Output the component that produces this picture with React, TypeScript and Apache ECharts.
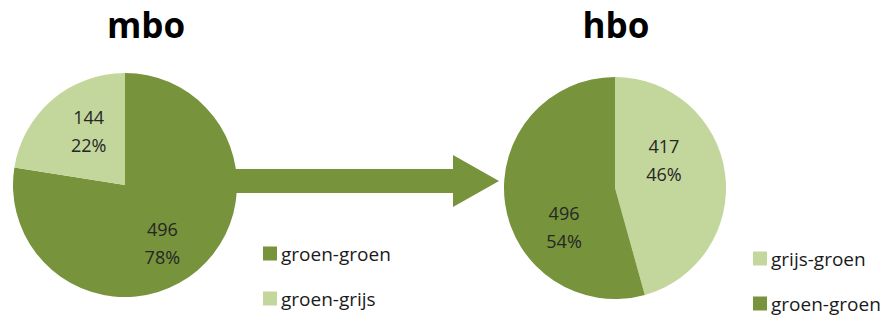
import React, { useEffect, useRef } from "react";
import * as echarts from "echarts";

const mboCategories = ["groen-groen", "groen-grijs"];
const mboValues = [496, 144];
const mboPercents = [78, 22];
const hboCategories = ["grijs-groen", "groen-groen"];
const hboValues = [417, 496];
const hboPercents = [46, 54];
const titles = ["mbo", "hbo"];

const DARK = "#77933C";
const LIGHT = "#C3D69B";
const FONT = "'Open Sans', 'DejaVu Sans', sans-serif";

export default function App() {
  const ref = useRef<HTMLDivElement>(null);
  useEffect(() => {
    if (!ref.current) return;
    const chart = echarts.init(ref.current, null, { renderer: "svg" });
    const labelCfg = (pcts: number[]) => ({
      show: true,
      position: "inside",
      formatter: (p: any) => `${p.value}\n${pcts[p.dataIndex]}%`,
      color: "#262626",
      fontSize: 18,
      lineHeight: 28,
      fontFamily: FONT,
    });
    const mboShift = [
      [-1, 13],
      [2, -9],
    ];
    const hboShift = [
      [-9, -20],
      [7, 31],
    ];
    const legendText = {
      fontSize: 19,
      color: "#1a1a1a",
      fontFamily: FONT,
      padding: [0, 0, 0, -1],
    };
    chart.setOption({
      animation: false,
      backgroundColor: "#ffffff",
      title: [
        {
          text: titles[0],
          left: 141,
          top: 2,
          textAlign: "center",
          textStyle: { fontSize: 35, fontWeight: "bold", color: "#000", fontFamily: FONT },
        },
        {
          text: titles[1],
          left: 611,
          top: 2,
          textAlign: "center",
          textStyle: { fontSize: 35, fontWeight: "bold", color: "#000", fontFamily: FONT },
        },
      ],
      legend: [
        {
          data: mboCategories,
          orient: "vertical",
          left: 263,
          top: 244,
          padding: 0,
          itemWidth: 14,
          itemHeight: 14,
          itemGap: 26,
          icon: "rect",
          textStyle: legendText,
          selectedMode: false,
        },
        {
          data: hboCategories,
          orient: "vertical",
          left: 753,
          top: 249,
          padding: 0,
          itemWidth: 14,
          itemHeight: 14,
          itemGap: 26,
          icon: "rect",
          textStyle: legendText,
          selectedMode: false,
        },
      ],
      graphic: [
        {
          type: "polygon",
          z: -1,
          shape: {
            points: [
              [232, 169],
              [453, 169],
              [453, 155],
              [499, 181],
              [453, 207],
              [453, 193],
              [232, 193],
            ],
          },
          style: { fill: DARK },
        },
      ],
      series: [
        {
          type: "pie",
          center: [125, 185],
          radius: 112,
          startAngle: 90,
          clockwise: true,
          label: labelCfg(mboPercents),
          labelLine: { show: false },
          labelLayout: (p: any) => ({ dx: mboShift[p.dataIndex][0], dy: mboShift[p.dataIndex][1] }),
          emphasis: { disabled: true },
          data: mboCategories.map((name, i) => ({
            name,
            value: mboValues[i],
            itemStyle: { color: i === 0 ? DARK : LIGHT },
          })),
        },
        {
          type: "pie",
          center: [615, 188],
          radius: 111,
          startAngle: 90,
          clockwise: true,
          label: labelCfg(hboPercents),
          labelLine: { show: false },
          labelLayout: (p: any) => ({ dx: hboShift[p.dataIndex][0], dy: hboShift[p.dataIndex][1] }),
          emphasis: { disabled: true },
          data: hboCategories.map((name, i) => ({
            name,
            value: hboValues[i],
            itemStyle: { color: i === 0 ? LIGHT : DARK },
          })),
        },
      ],
    });
    return () => chart.dispose();
  }, []);
  return (
    <div
      ref={ref}
      style={{ position: "fixed", left: 0, top: 0, width: 888, height: 315 }}
    />
  );
}
